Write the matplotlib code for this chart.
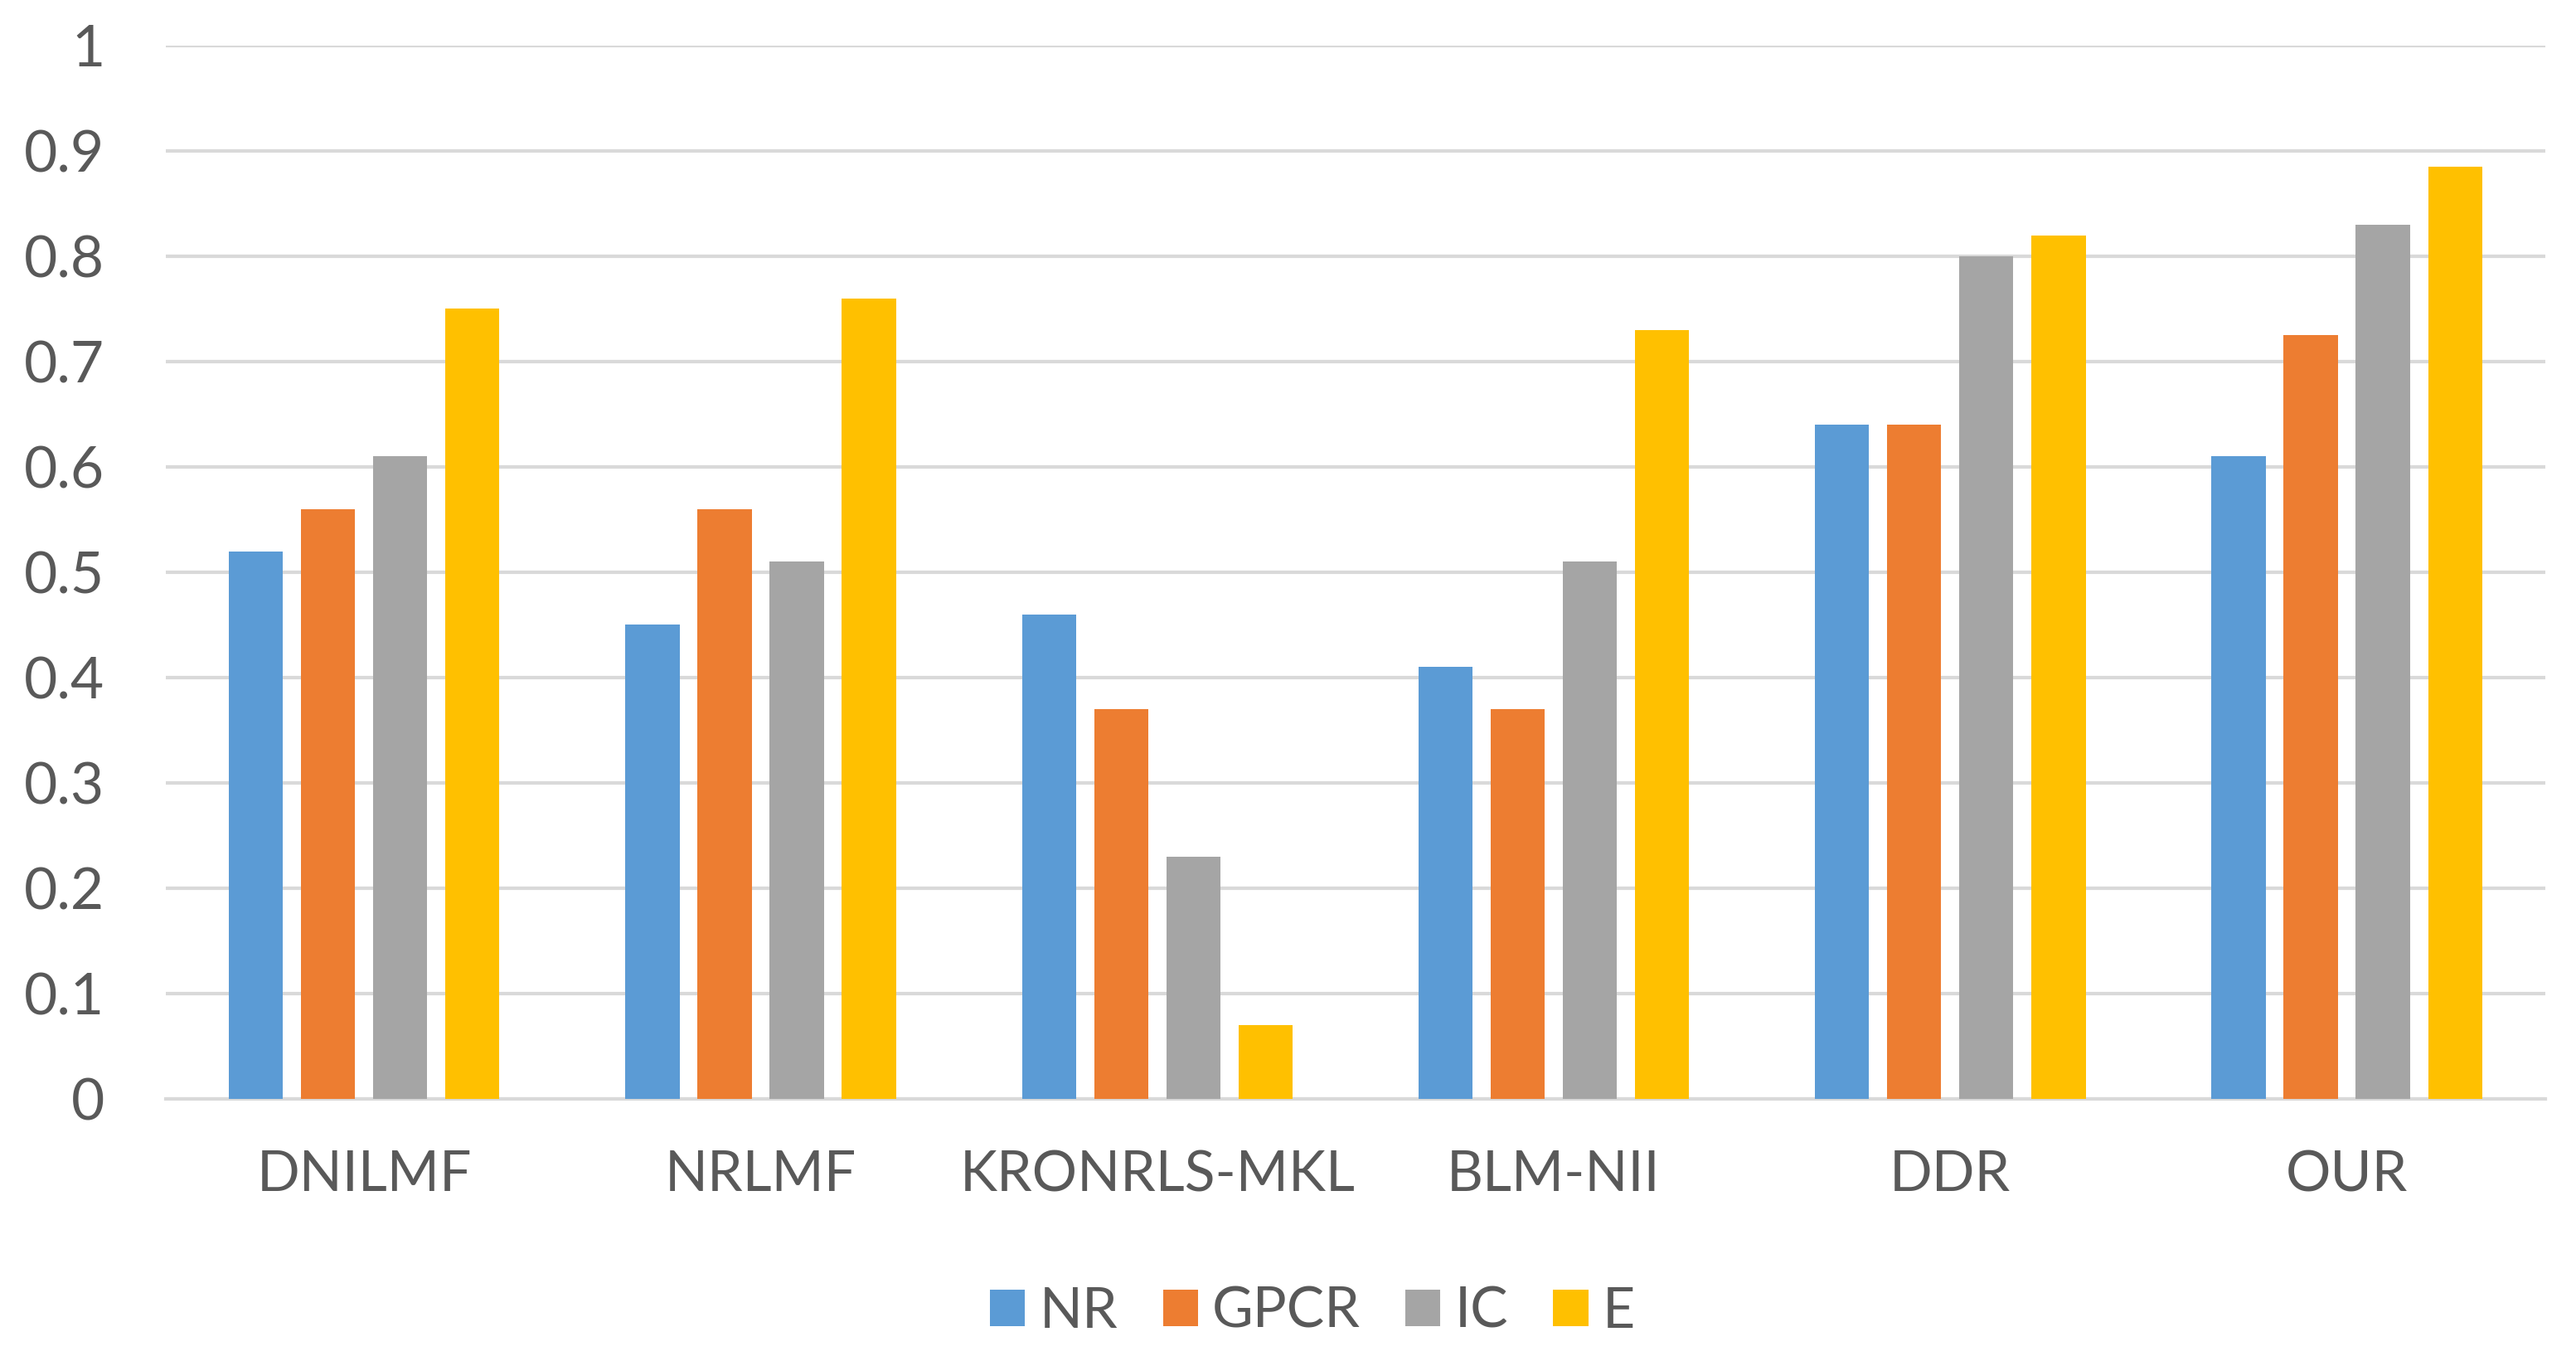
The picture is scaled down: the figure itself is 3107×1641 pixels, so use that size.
import numpy as np
import matplotlib
matplotlib.use("Agg")
import matplotlib.pyplot as plt

# data
methods = ['DNILMF', 'NRLMF', 'KRONRLS-MKL', 'BLM-NII', 'DDR', 'OUR']
series = ['NR', 'GPCR', 'IC', 'E']
nr = [0.52, 0.45, 0.46, 0.41, 0.64, 0.61]
gpcr = [0.56, 0.56, 0.37, 0.37, 0.64, 0.725]
ic = [0.61, 0.51, 0.23, 0.51, 0.80, 0.83]
e = [0.75, 0.76, 0.07, 0.73, 0.82, 0.885]
yticks = [0, 0.1, 0.2, 0.3, 0.4, 0.5, 0.6, 0.7, 0.8, 0.9, 1]
ytick_labels = ['0', '0.1', '0.2', '0.3', '0.4', '0.5', '0.6', '0.7', '0.8', '0.9', '1']

colors = ['#5B9BD5', '#ED7D31', '#A5A5A5', '#FFC000']
text_color = '#595959'
font = ['Lato', 'DejaVu Sans']

fig = plt.figure(figsize=(31.07, 16.41), dpi=100)
ax = fig.add_axes([0.0644, 0.1926, 0.9236, 0.7739])

x = np.arange(len(methods))
slot = 0.182
width = 0.1365
for i, (name, vals) in enumerate(zip(series, [nr, gpcr, ic, e])):
    ax.bar(x + (i - 1.5) * slot, vals, width, color=colors[i], label=name, zorder=3)

ax.set_xlim(-0.5, len(methods) - 0.5)
ax.set_ylim(0, 1)
ax.set_yticks(yticks)
ax.set_yticklabels(ytick_labels, fontsize=50, color=text_color, family=font)
ax.set_xticks(x)
ax.set_xticklabels(methods, fontsize=49, color=text_color, family=font)
ax.tick_params(axis='y', length=0, pad=53)
ax.tick_params(axis='x', length=0, pad=44)

# horizontal gridlines only
ax.grid(axis='y', color='#D9D9D9', linewidth=3, zorder=0)
for s in ['top', 'right', 'left']:
    ax.spines[s].set_visible(False)
ax.spines['bottom'].set_color('#D9D9D9')
ax.spines['bottom'].set_linewidth(3)

leg = fig.legend(loc='center', bbox_to_anchor=(0.5095, 0.036), ncol=4, frameon=False,
                 prop={'family': font, 'size': 49}, handlelength=0.62, handleheight=0.62,
                 handletextpad=0.25, columnspacing=0.8)
for t in leg.get_texts():
    t.set_color(text_color)

fig.savefig('out.png', dpi=100, facecolor='white')
